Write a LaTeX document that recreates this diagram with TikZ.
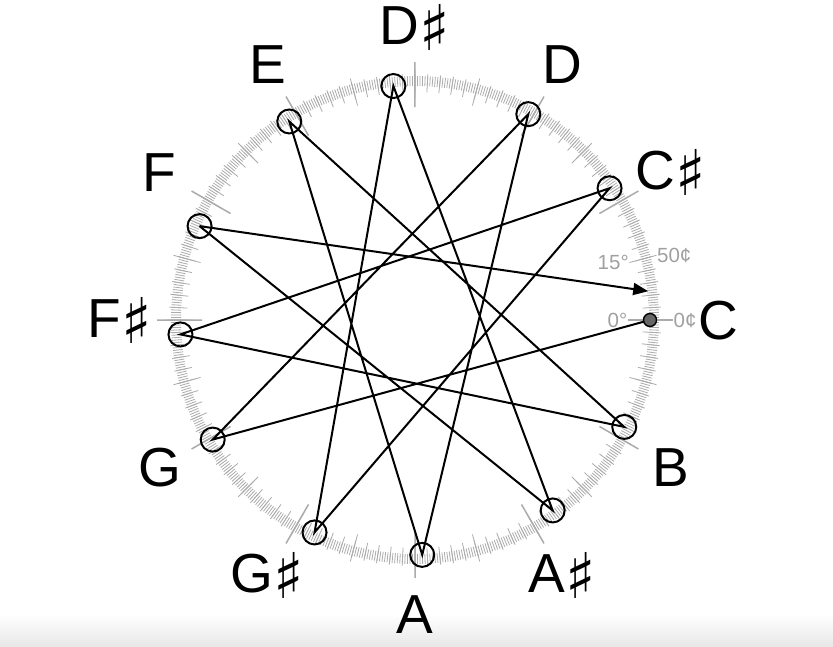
\documentclass[tikz,border=0pt]{standalone}
\usepackage{fontspec}
\setmainfont{Liberation Sans}
\newfontfamily\shpfont{DejaVu Sans}
\newcommand\shp{{\shpfont\fontsize{63}{66}\selectfont\raisebox{-6pt}{♯}}}
\usetikzlibrary{arrows.meta}
\definecolor{tickgray}{HTML}{ABABAB}
\definecolor{txtgray}{HTML}{A0A0A0}
\begin{document}
\begin{tikzpicture}[x=1pt,y=1pt,
  tickline/.style={draw=tickgray, line width=0.8pt},
  majortick/.style={draw=tickgray, line width=1.5pt},
  link/.style={draw=black, line width=2pt},
  notecirc/.style={draw=black, line width=2pt, circle, minimum size=24pt, inner sep=0pt},
  startdot/.style={draw=black, fill=black!60, line width=1.4pt, circle, minimum size=13pt, inner sep=0pt},
  lab/.style={font=\fontsize{55}{60}\selectfont, inner sep=0pt},
  scalelab/.style={font=\fontsize{20.5}{23}\selectfont, text=txtgray, inner sep=0.5pt}]
\useasboundingbox (-415,-326) rectangle (418,320);
\shade[top color=white, bottom color=black!9] (-415,-326) rectangle (418,-294);
% scale ticks
\foreach \c in {0,2,...,1198} {\draw[tickline] ({\c*0.3}:234) -- ({\c*0.3}:244);}
\foreach \c in {0,10,...,1190} {\draw[tickline] ({\c*0.3}:228) -- ({\c*0.3}:246);}
\foreach \c in {0,50,...,1150} {\draw[tickline] ({\c*0.3}:222) -- ({\c*0.3}:250);}
\foreach \c in {0,100,...,1100} {\draw[majortick] ({\c*0.3}:213) -- ({\c*0.3}:258);}
\coordinate (t0in) at (0:213);
\coordinate (t0out) at (0:258);
\coordinate (t50in) at (15:222);
\coordinate (t50out) at (15:250);
\node[scalelab, anchor=east] (s0deg) at (t0in) {0°};
\node[scalelab, anchor=west] (s0ct) at (t0out) {0¢};
\node[scalelab, anchor=east] (s15deg) at (t50in) {15°};
\node[scalelab, anchor=west] (s50ct) at (t50out) {50¢};
% note positions (Pythagorean chain of fifths)
\coordinate (C) at (0:235);
\coordinate (G) at (210.587:235);
\coordinate (D) at (61.173:235);
\coordinate (A) at (271.760:235);
\coordinate (E) at (122.346:235);
\coordinate (B) at (332.934:235);
\coordinate (Fs) at (183.519:235);
\coordinate (Cs) at (34.107:235);
\coordinate (Gs) at (244.692:235);
\coordinate (Ds) at (95.280:235);
\coordinate (As) at (305.865:235);
\coordinate (F) at (156.453:235);
\coordinate (C2) at (7.038:235);
% connectors
\draw[link] (C) -- (G) -- (D) -- (A) -- (E) -- (B) -- (Fs) -- (Cs) -- (Gs) -- (Ds) -- (As) -- (F);
\draw[link, -{Triangle[length=15pt, width=12pt]}] (F) -- (C2);
% markers
\node[startdot] (nC) at (C) {};
\foreach \n in {G,D,A,E,B,Fs,Cs,Gs,Ds,As,F} {\node[notecirc] (n\n) at (\n) {};}
% labels
\node[lab] (lC) at (303,-1) {C};
\node[lab] (lCs) at (30:295) {C\shp};
\node[lab] (lD) at (60:295) {D};
\node[lab] (lDs) at (90:293) {D\shp};
\node[lab] (lE) at (120:295) {E};
\node[lab] (lF) at (150:295) {F};
\node[lab] (lFs) at (180:295) {F\shp};
\node[lab] (lG) at (210:295) {G};
\node[lab] (lGs) at (240:295) {G\shp};
\node[lab] (lA) at (270:295) {A};
\node[lab] (lAs) at (300:295) {A\shp};
\node[lab] (lB) at (330:295) {B};
\end{tikzpicture}
\end{document}
